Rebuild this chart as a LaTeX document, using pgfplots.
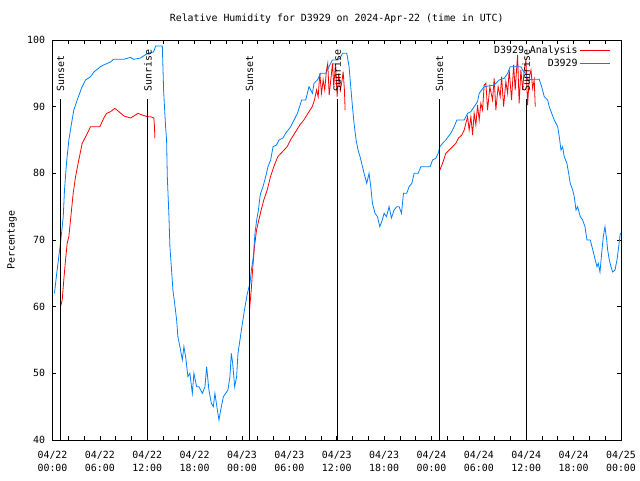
\documentclass[border=0pt]{standalone}
\usepackage{fontspec}
\setmainfont{DejaVu Sans Mono}
\usepackage{pgfplots}
\pgfplotsset{compat=1.18}
\definecolor{gblue}{RGB}{0,128,255}
\definecolor{gred}{RGB}{255,0,0}
\begin{document}
\begin{tikzpicture}[font=\fontsize{9.9}{13}\selectfont]
\useasboundingbox (0,0) rectangle (640pt,480pt);
\begin{axis}[
 at={(52.5pt,40pt)}, anchor=south west,
 scale only axis, width=568.5pt, height=400pt,
 xmin=0, xmax=72, ymin=40, ymax=100,
 xtick={0,6,...,72},
 xticklabels={{04/22\\00:00},{04/22\\06:00},{04/22\\12:00},{04/22\\18:00},{04/23\\00:00},{04/23\\06:00},{04/23\\12:00},{04/23\\18:00},{04/24\\00:00},{04/24\\06:00},{04/24\\12:00},{04/24\\18:00},{04/25\\00:00}},
 minor x tick num=2,
 ytick={40,50,...,100},
 tick align=inside,
 major tick length=4pt, minor tick length=4pt,
 every tick/.style={black, line width=0.7pt},
 axis line style={line width=0.8pt},
 xticklabel style={align=center, yshift=-8pt},
 yticklabel style={xshift=-4pt},
 /pgf/number format/assume math mode=true,
 every axis title shift=0pt,
 title={Relative Humidity for D3929 on 2024-Apr-22 (time in UTC)},
 title style={at={(axis description cs:0.5,1.0525)}, anchor=center},
 ylabel={Percentage},
 ylabel style={at={(axis description cs:-0.071,0.5)}, anchor=center},
 unbounded coords=jump,
 legend style={draw=none, fill=none, at={(0.987,0.995)}, anchor=north east, row sep=-0.5pt},
 legend cell align=right,
 legend plot pos=right,
 legend image code/.code={\draw[#1] (0pt,0pt) -- (30pt,0pt);},
]
\addplot[gred, line width=0.8pt] coordinates {
(1.01,60) (1.23,61) (1.43,64) (1.65,67) (1.86,69.5) (2.07,70.5) (2.28,73) (2.62,77) (2.92,79.5) (3.33,82) (3.76,84.5) (4.31,85.75) (4.82,87) (5.45,87) (6.00,87) (6.50,88.3) (6.85,89) (7.35,89.25) (7.90,89.75) (8.41,89.25) (9.04,88.6) (9.89,88.3) (10.31,88.6) (10.82,89) (11.37,88.75) (12.00,88.5) (12.42,88.5) (12.83,88.3) (12.92,87) (12.96,85.3)
(13,nan)
(24.95,59.5) (25.17,62.5) (25.37,66) (25.58,69) (25.84,71.5) (26.13,73) (26.43,74.5) (26.76,76) (27.19,77.5) (27.61,79.5) (28.03,81) (28.53,82.5) (29.09,83.2) (29.72,84) (30.14,85) (30.78,86.2) (31.32,87.25) (31.83,88) (32.46,89.2) (32.89,90) (33.18,91) (33.44,92.5) (33.65,91.5) (33.85,95) (34.07,92) (34.28,94) (34.48,92.5) (34.70,95.5) (34.86,96.5) (35.04,91.75) (35.29,94.5) (35.46,96.5) (35.62,93) (35.84,96.5) (36.05,91.5) (36.25,95) (36.47,92.5) (36.68,94) (36.81,95.25) (36.97,92.5) (37.06,89.5)
(37.1,nan)
(49.06,80.5) (49.40,81.5) (49.82,83) (50.24,83.5) (50.67,84) (51.08,84.5) (51.42,85.3) (51.84,85.75) (52.14,86.5) (52.35,87.5) (52.57,88.5) (52.77,86.5) (52.99,88.5) (53.20,85.75) (53.40,89) (53.62,87.25) (53.83,90.25) (54.04,88) (54.25,90.5) (54.47,89.5) (54.67,93.25) (54.89,93.5) (55.10,89.5) (55.39,93) (55.73,91) (55.94,94.25) (56.15,89.5) (56.44,93) (56.70,91.5) (56.88,94.5) (57.13,90) (57.42,93.75) (57.64,92) (57.84,95.5) (58.14,91) (58.40,96.25) (58.60,92.5) (58.90,97.75) (59.10,90.5) (59.32,95.5) (59.54,92.5) (59.74,95.5) (59.96,97) (60.17,90.25) (60.39,94.5) (60.60,95.5) (60.81,92.75) (61.01,94) (61.14,90)
};
\addlegendentry{D3929 Analysis}
\addplot[gblue, line width=0.8pt] coordinates {
(0.25,62) (0.51,64.75) (0.80,67.5) (1.10,70.5) (1.36,73.5) (1.52,77.5) (1.77,81.5) (2.07,85) (2.41,87.5) (2.70,89.5) (3.13,91) (3.68,92.8) (4.18,94) (4.82,94.5) (5.24,95.2) (6.08,96) (6.46,96.25) (7.35,96.7) (7.73,97.1) (9.00,97.1) (9.89,97.4) (10.27,97.1) (11.15,97.3) (12.04,98) (12.80,98.2) (13.06,99.1) (13.91,99.1) (14.07,92.5) (14.32,87) (14.45,85) (14.54,79.5) (14.75,73.5) (14.87,69) (15.05,66) (15.25,62.5) (15.47,60.5) (15.72,58) (15.88,55.5) (16.14,54) (16.44,52) (16.64,54) (16.86,52.5) (17.15,49.5) (17.40,50) (17.71,47) (17.91,50) (18.25,48) (18.55,48) (18.98,47) (19.31,48) (19.52,51) (19.81,47.5) (20.12,45.5) (20.37,45) (20.57,47) (20.88,44.5) (21.08,43) (21.30,44.5) (21.64,46.5) (21.93,47) (22.22,47.5) (22.47,49.5) (22.65,53) (22.82,51.5) (23.07,48) (23.32,49.5) (23.49,53) (23.74,55) (24.05,57.5) (24.38,60) (24.68,62) (25.01,63.5) (25.19,65.5) (25.44,67.5) (25.64,71) (25.86,73) (26.08,74.5) (26.28,76.5) (26.36,77) (26.66,78) (27.00,79.5) (27.29,81) (27.63,82) (27.93,84) (28.36,84.25) (28.69,85) (29.19,85.3) (29.53,86) (30.17,87) (30.59,88) (31.02,89) (31.56,91) (32.07,91) (32.49,93) (32.92,92) (33.12,93.5) (33.55,94) (33.97,95) (34.60,95) (35.02,96) (35.45,97) (36.09,97) (36.42,97.3) (36.72,98) (37.27,98) (37.56,96) (37.77,93) (37.99,90) (38.19,87.5) (38.45,85) (38.70,83.5) (38.95,82.5) (39.26,81) (39.46,80) (39.80,78.5) (40.09,80) (40.31,78) (40.52,75.5) (40.85,74) (41.16,73.5) (41.45,72) (41.70,72.75) (42.00,74) (42.30,73.5) (42.63,75) (42.93,73.3) (43.26,74.5) (43.61,75) (43.90,75) (44.20,74) (44.45,77) (44.87,77) (45.16,78) (45.51,78.5) (45.80,80) (46.31,80) (46.65,81) (47.83,81) (48.13,82) (48.55,82.25) (48.84,83) (49.06,84) (49.40,84.5) (49.82,85) (50.11,85.5) (50.45,86) (50.87,87) (51.21,88) (52.14,88) (52.57,89) (52.99,89.25) (53.40,90) (53.83,90.75) (54.04,92) (54.67,93) (55.94,93.25) (56.57,94) (57.21,94.25) (57.64,95) (57.97,96) (59.32,96) (59.66,95.25) (59.96,95) (60.17,94) (60.81,94.1) (61.64,94.1) (61.95,93) (62.28,91.5) (62.71,91) (62.91,90) (63.22,89) (63.55,88) (63.98,87) (64.18,85.5) (64.40,83.5) (64.61,84) (64.81,82.5) (65.15,81.5) (65.37,80) (65.57,78.5) (65.88,77.5) (66.08,76.5) (66.30,74.5) (66.51,75) (66.84,73.5) (67.14,73) (67.44,72) (67.69,70) (68.11,70) (68.32,69) (68.54,68) (68.74,67) (68.96,66) (69.12,66.5) (69.34,65.2) (69.55,68) (69.76,70.5) (69.97,72) (70.19,70) (70.31,68.5) (70.52,67) (70.73,66) (70.95,65.2) (71.24,65.5) (71.49,67) (71.71,69) (71.91,71) (72.0,71)
};
\addlegendentry{D3929}
% sunrise / sunset markers
\addplot[black, line width=0.8pt, forget plot] coordinates {(1.02,40) (1.02,91.1) (1.02,nan) (12.08,40) (12.08,91.1) (12.08,nan) (24.95,40) (24.95,91.1) (24.95,nan) (36.05,40) (36.05,91.1) (36.05,nan) (49.02,40) (49.02,91.1) (49.02,nan) (60.0,40) (60.0,91.1)};
\node[rotate=90, anchor=west, inner sep=0pt] at (axis cs:1.02,92.25) {Sunset};
\node[rotate=90, anchor=west, inner sep=0pt] at (axis cs:12.08,92.25) {Sunrise};
\node[rotate=90, anchor=west, inner sep=0pt] at (axis cs:24.95,92.25) {Sunset};
\node[rotate=90, anchor=west, inner sep=0pt] at (axis cs:36.05,92.25) {Sunrise};
\node[rotate=90, anchor=west, inner sep=0pt] at (axis cs:49.02,92.25) {Sunset};
\node[rotate=90, anchor=west, inner sep=0pt] at (axis cs:60.0,92.25) {Sunrise};
\end{axis}
\end{tikzpicture}
\end{document}
